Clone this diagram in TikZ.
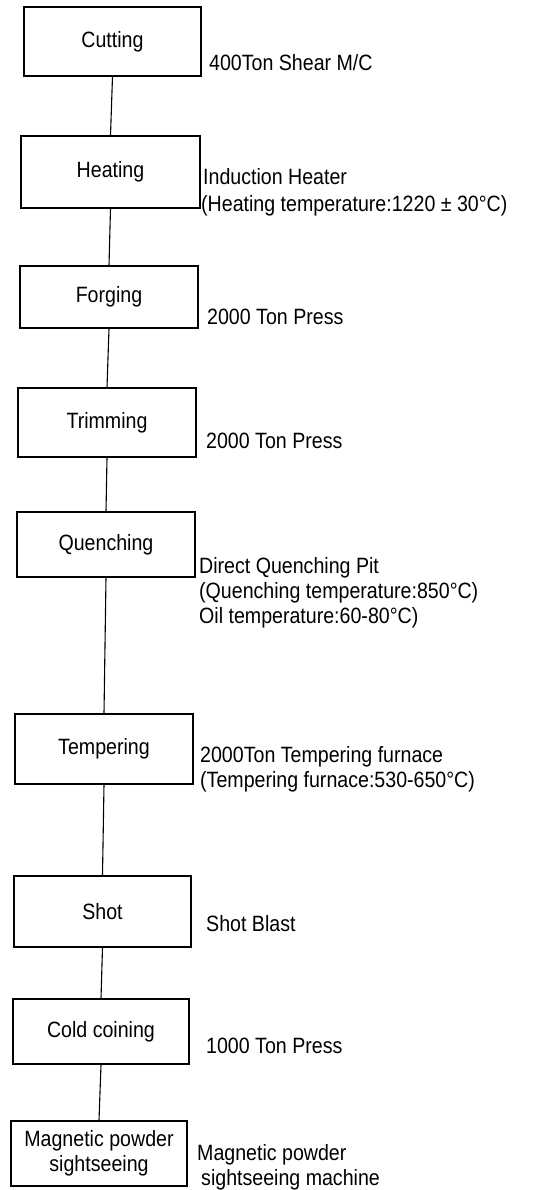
\documentclass[tikz,border=0pt]{standalone}
\usepackage{graphicx}
\usepackage{fontspec}
\setmainfont{Liberation Sans}
\newcommand\tx[1]{\scalebox{1}[1.13]{#1}}
\begin{document}
\begin{tikzpicture}[x=1pt,y=-1pt,
  every node/.style={font=\fontsize{19.6}{25}\selectfont},
  stepbox/.style={draw,line width=1.1pt,inner sep=0pt,align=center},
  lbl/.style={anchor=base west,inner sep=0pt},
  link/.style={line width=1.1pt}]
\useasboundingbox (0,0) rectangle (550,1190);
% boxes
\node[stepbox,minimum width=177pt,minimum height=69pt] (cut) at (112.5,41.5) {\tx{Cutting}};
\node[stepbox,minimum width=179pt,minimum height=72pt] (heat) at (110.5,172) {\tx{Heating}};
\node[stepbox,minimum width=178pt,minimum height=62pt] (forge) at (109,297) {\tx{Forging}};
\node[stepbox,minimum width=178pt,minimum height=69pt] (trim) at (107,422.5) {\tx{Trimming}};
\node[stepbox,minimum width=178pt,minimum height=65pt] (quench) at (106,544.5) {\tx{Quenching}};
\node[stepbox,minimum width=178pt,minimum height=70pt] (temper) at (104,749) {\tx{Tempering}};
\node[stepbox,minimum width=177pt,minimum height=71pt] (shot) at (102.5,911.5) {\tx{Shot}};
\node[stepbox,minimum width=176pt,minimum height=65pt] (coin) at (101,1031.5) {\tx{Cold coining}};
\node[stepbox,minimum width=176pt,minimum height=65pt] (mag) at (99,1153.5) {\tx{Magnetic powder}\\\tx{sightseeing}};
% connectors
\draw[link] (cut.south) -- (heat.north);
\draw[link] (heat.south) -- (forge.north);
\draw[link] (forge.south) -- (trim.north);
\draw[link] (trim.south) -- (quench.north);
\draw[link] (quench.south) -- (temper.north);
\draw[link] (temper.south) -- (shot.north);
\draw[link] (shot.south) -- (coin.north);
\draw[link] (coin.south) -- (mag.north);
% labels
\node[lbl] (l1) at (209,71) {\tx{400Ton Shear M/C}};
\node[lbl] (l2a) at (203,185) {\tx{Induction Heater}};
\node[lbl] (l2b) at (201,212) {\tx{(Heating temperature:1220 ± 30°C)}};
\node[lbl] (l3) at (207,324) {\tx{2000 Ton Press}};
\node[lbl] (l4) at (206,448) {\tx{2000 Ton Press}};
\node[lbl] (l5a) at (199,573) {\tx{Direct Quenching Pit}};
\node[lbl] (l5b) at (199,598) {\tx{(Quenching temperature:850°C)}};
\node[lbl] (l5c) at (199,623) {\tx{Oil temperature:60-80°C)}};
\node[lbl] (l6a) at (200,762) {\tx{2000Ton Tempering furnace}};
\node[lbl] (l6b) at (200,787) {\tx{(Tempering furnace:530-650°C)}};
\node[lbl] (l7) at (206,931) {\tx{Shot Blast}};
\node[lbl] (l8) at (206,1053) {\tx{1000 Ton Press}};
\node[lbl] (l9a) at (197,1160) {\tx{Magnetic powder}};
\node[lbl] (l9b) at (201,1185) {\tx{sightseeing machine}};
\end{tikzpicture}
\end{document}
